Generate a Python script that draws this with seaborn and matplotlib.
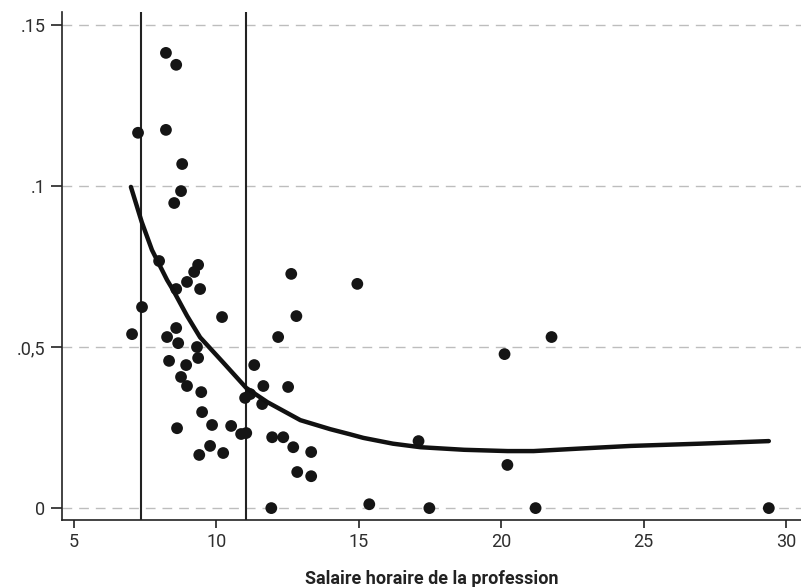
import numpy as np
import pandas as pd
import matplotlib
matplotlib.use("Agg")
import matplotlib.pyplot as plt
from matplotlib import font_manager
import seaborn as sns

# scatter: hourly wage of the occupation vs share
wage = [8.23, 8.59, 7.25, 8.23, 8.80, 8.76, 8.52, 7.99, 9.36, 9.22,
        8.97, 8.59, 9.43, 7.39, 10.20, 12.63, 14.95, 12.81, 7.04, 8.59,
        8.27, 8.66, 9.32, 12.17, 21.77, 20.12, 9.36, 8.34, 8.94, 11.33,
        8.76, 8.97, 11.65, 12.52, 9.47, 11.01, 11.19, 11.61, 9.50, 8.62,
        9.85, 10.52, 10.87, 11.05, 11.96, 12.35, 17.10, 12.70, 13.33, 9.78,
        9.40, 10.24, 12.84, 13.33, 20.22, 11.93, 15.37, 17.48, 21.21, 29.40]
share = [0.1413, 0.1376, 0.1165, 0.1174, 0.1068, 0.0984, 0.0947, 0.0767, 0.0755, 0.0733,
         0.0702, 0.0680, 0.0680, 0.0624, 0.0593, 0.0727, 0.0696, 0.0596, 0.0540, 0.0559,
         0.0531, 0.0512, 0.0500, 0.0531, 0.0531, 0.0478, 0.0466, 0.0457, 0.0444, 0.0444,
         0.0407, 0.0379, 0.0379, 0.0376, 0.0360, 0.0342, 0.0354, 0.0323, 0.0298, 0.0248,
         0.0258, 0.0255, 0.0230, 0.0233, 0.0220, 0.0220, 0.0208, 0.0189, 0.0174, 0.0193,
         0.0165, 0.0171, 0.0112, 0.0099, 0.0134, 0.0000, 0.0012, 0.0000, 0.0000, 0.0000]

# smoothed curve
fit_x = [7.00, 7.38, 7.74, 8.27, 8.48, 8.97, 9.43, 10.24, 11.05, 11.79, 12.95,
         14.0, 14.7, 15.16, 16.2, 17.17, 18.7, 20.23, 21.14, 22.8, 24.55, 27.0, 29.40]
fit_y = [0.0997, 0.0888, 0.0801, 0.0708, 0.0677, 0.0597, 0.0530, 0.0452, 0.0373,
         0.0329, 0.0273, 0.0245, 0.0229, 0.0218, 0.0200, 0.0189, 0.0181, 0.0177,
         0.0177, 0.0185, 0.0193, 0.0200, 0.0208]

vlines = [7.37, 11.05]
yticks = [0, 0.05, 0.1, 0.15]
ytick_labels = ["0", ".0,5", ".1", ".15"]
xticks = [5, 10, 15, 20, 25, 30]

pts = pd.DataFrame({"wage": wage, "share": share})
fit = pd.DataFrame({"wage": fit_x, "share": fit_y})

sns.set_style("white")
names = {f.name for f in font_manager.fontManager.ttflist}
tick_fam = "Roboto" if "Roboto" in names else "DejaVu Sans"
plt.rcParams["font.family"] = [tick_fam, "DejaVu Sans"]

fig = plt.figure(figsize=(8.01, 5.87), dpi=100)
ax = fig.add_axes([0.0774, 0.1141, 0.9226, 0.8655])

for y in yticks:
    ax.axhline(y, color="#bdbdbd", lw=1.0, ls=(0, (7, 5)), zorder=1)
for x in vlines:
    ax.axvline(x, color="#222222", lw=1.5, zorder=2)

sns.scatterplot(data=pts, x="wage", y="share", ax=ax, color="#151515",
                s=72, edgecolor="none", zorder=3)
sns.lineplot(data=fit, x="wage", y="share", ax=ax, color="#111111",
             lw=3.2, zorder=4, sort=True)

ax.set_xlim(4.58, 30.53)
ax.set_ylim(-0.0037, 0.154)
ax.set_xticks(xticks)
ax.set_xticklabels([str(t) for t in xticks])
ax.set_yticks(yticks)
ax.set_yticklabels(ytick_labels)
ax.tick_params(axis="y", direction="out", length=8, width=1.2, color="#222222",
               labelsize=13, labelcolor="#2e2e2e", left=True, pad=4)
ax.tick_params(axis="x", direction="out", length=6, width=1.2, color="#222222",
               labelsize=13, labelcolor="#2e2e2e", bottom=True, pad=3)

for side in ["top", "right"]:
    ax.spines[side].set_visible(False)
for side in ["left", "bottom"]:
    ax.spines[side].set_color("#222222")
    ax.spines[side].set_linewidth(1.2)

ax.set_ylabel("")
ax.set_xlabel("Salaire horaire de la profession", fontsize=13, fontweight="bold",
              fontstretch="condensed", family=[tick_fam, "DejaVu Sans"],
              color="#222222", labelpad=14)

fig.savefig("out.png", dpi=100)
